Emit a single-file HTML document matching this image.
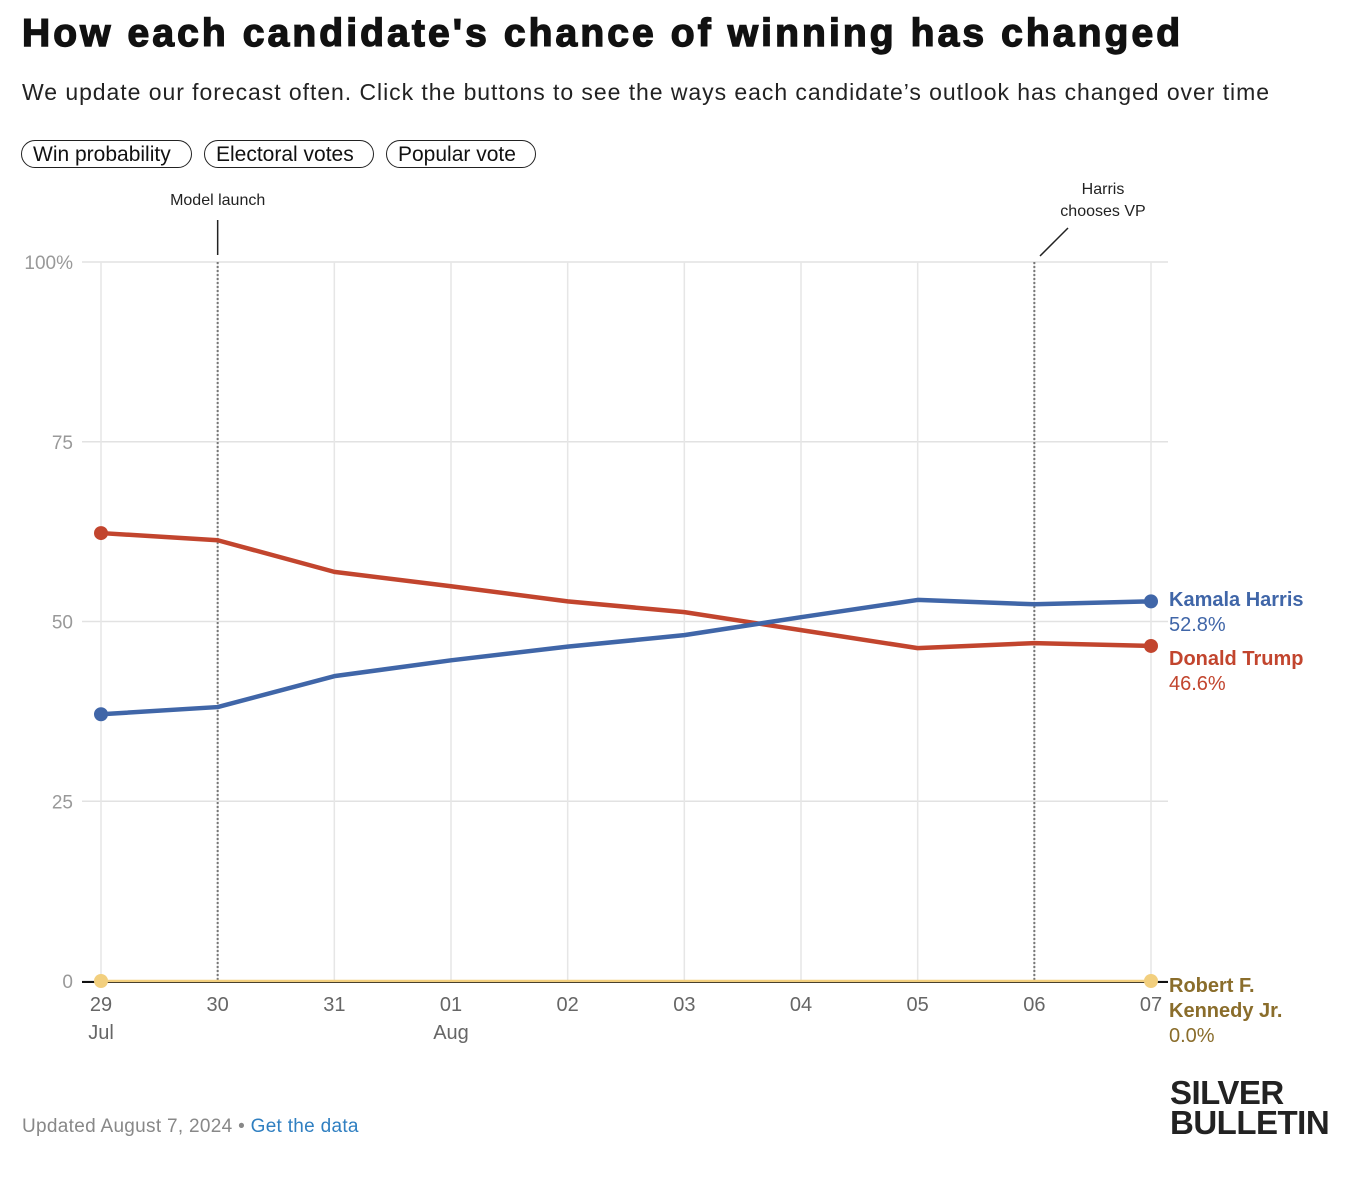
<!DOCTYPE html>
<html><head><meta charset="utf-8">
<style>
body{margin:0;background:#fff;font-family:"Liberation Sans",sans-serif;width:1372px;height:1180px;overflow:hidden;position:relative}
.abs{position:absolute}
h1{position:absolute;left:22px;top:12px;margin:0;font-size:39px;font-weight:900;letter-spacing:3.1px;color:#111;font-family:"Liberation Sans",sans-serif;-webkit-text-stroke:1.4px #111;white-space:nowrap}
.sub{left:22px;top:79px;font-size:23px;color:#222;letter-spacing:0.95px;white-space:nowrap}
.btn{top:140px;height:28px;border:1.5px solid #222;border-radius:15px;font-size:21px;line-height:27px;padding:0 11px;color:#111;box-sizing:border-box;white-space:nowrap}
.foot{left:22px;top:1116px;font-size:19px;color:#888;letter-spacing:0.3px}
.logo{left:1170px;top:1078px;font-size:33px;font-weight:900;line-height:30px;color:#222;letter-spacing:-0.5px}
</style></head><body>
<h1>How each candidate's chance of winning has changed</h1>
<div class="abs sub">We update our forecast often. Click the buttons to see the ways each candidate’s outlook has changed over time</div>
<div class="abs btn" style="left:21px;width:171px">Win probability</div>
<div class="abs btn" style="left:204px;width:170px">Electoral votes</div>
<div class="abs btn" style="left:386px;width:150px">Popular vote</div>
<svg class="abs" style="left:0;top:0" width="1372" height="1180" id="chart"></svg>
<div class="abs foot">Updated August 7, 2024 • <span style="color:#2f7fc1">Get the data</span></div>
<div class="abs logo">SILVER<br>BULLETIN</div>
<script>
const dates=["29","30","31","01","02","03","04","05","06","07"];
const months=["Jul","","","Aug","","","","","",""];
const harris=[37.1,38.1,42.4,44.6,46.5,48.1,50.6,53.0,52.4,52.8];
const trump=[62.3,61.3,56.9,54.9,52.8,51.3,48.8,46.3,47.0,46.6];
const rfk=[0,0,0,0,0,0,0,0,0,0];
const yTicks=[0,25,50,75,100];
const yTickLabels=["0","25","50","75","100%"];
const NS="http://www.w3.org/2000/svg";
const svg=document.getElementById('chart');
const x=i=>101+i*(1151-101)/(dates.length-1);
const y=v=>981-v*(981-262)/100;
function el(t,a,txt){const e=document.createElementNS(NS,t);for(const k in a)e.setAttribute(k,a[k]);if(txt!==undefined)e.textContent=txt;svg.appendChild(e);return e;}
yTicks.forEach((t,i)=>{
 const g=el('line',{x1:82,x2:1168,y1:y(t),y2:y(t),stroke:'#e2e2e2','stroke-width':1.5});
 
 const l=el('text',{x:73,y:y(t)+7,'text-anchor':'end','font-size':19,fill:'#999','font-family':'Liberation Sans'},yTickLabels[i]);
 
});
dates.forEach((d,i)=>{
 const g=el('line',{x1:x(i),x2:x(i),y1:262,y2:981,stroke:'#e6e6e6','stroke-width':1.5});
 
 const t=el('text',{x:x(i),y:1011,'text-anchor':'middle','font-size':20,fill:'#666','font-family':'Liberation Sans'},d);
 
 if(months[i]){const m=el('text',{x:x(i),y:1039,'text-anchor':'middle','font-size':20,fill:'#666','font-family':'Liberation Sans'},months[i]);
 }
});
const base=el('line',{x1:82,x2:1168,y1:982,y2:982,stroke:'#111','stroke-width':2});

[[1,"Model launch",[199]],[8,"Harris|chooses VP",[188,210]]].forEach(([i,lab,ys])=>{
 const l=el('line',{x1:x(i),x2:x(i),y1:262,y2:981,stroke:'#777','stroke-width':2,'stroke-dasharray':'2,2'});
 
 const parts=lab.split('|');
 parts.forEach((p,k)=>{const t=el('text',{x:i==1?x(i):1103,y:ys[k]+6,'text-anchor':'middle','font-size':16,fill:'#222','font-family':'Liberation Sans'},p);
 });
 const c=i==1?el('line',{x1:x(i),x2:x(i),y1:220,y2:255,stroke:'#222','stroke-width':1.5}):el('line',{x1:1040,x2:1068,y1:256,y2:228,stroke:'#222','stroke-width':1.5});
 
});
function series(vals,color,name,lbl,valTxt,ly,w){
 const p=el('polyline',{points:vals.map((v,i)=>x(i)+','+y(v)).join(' '),fill:'none',stroke:color,'stroke-width':w,'stroke-linejoin':'round'});
 
 [0,vals.length-1].forEach(i=>{const c=el('circle',{cx:x(i),cy:y(vals[i]),r:7,fill:color});
 });
 const tc=name=='rfk'?'#8a6d2b':color;
 lbl.forEach((s,k)=>{const t=el('text',{x:1169,y:ly+k*25,'font-size':20,'font-weight':'bold',fill:tc,'font-family':'Liberation Sans'},s);
 });
 const v=el('text',{x:1169,y:ly+lbl.length*25,'font-size':20,fill:tc,'font-family':'Liberation Sans'},valTxt);
 
}
series(rfk,'#f2cf7e','rfk',["Robert F.","Kennedy Jr."],rfk[rfk.length-1].toFixed(1)+'%',992,2.5);
series(trump,'#c2452e','trump',["Donald Trump"],trump[trump.length-1].toFixed(1)+'%',665,4.5);
series(harris,'#4066a8','harris',["Kamala Harris"],harris[harris.length-1].toFixed(1)+'%',606,4.5);
</script>
</body></html>
